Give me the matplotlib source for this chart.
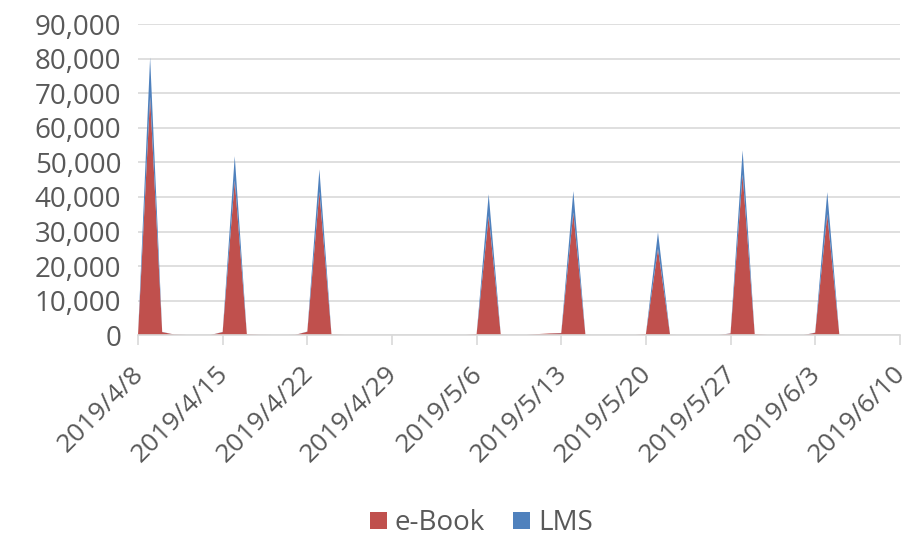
import numpy as np
import pandas as pd
import matplotlib
matplotlib.use('Agg')
import matplotlib.pyplot as plt
import matplotlib.transforms as mtransforms
from matplotlib.patches import Patch
from matplotlib.ticker import FuncFormatter, MultipleLocator

plt.rcParams['font.family'] = ['Open Sans', 'DejaVu Sans']

# daily counts, 2019/4/8 .. 2019/6/9
start_date = '2019-04-08'
ebook = [0, 69000, 900, 200, 50, 0, 50,
         900, 44800, 300, 100, 50, 0, 100,
         1000, 41500, 200, 50, 0, 0, 0,
         0, 0, 0, 0, 0, 0, 0,
         300, 34500, 100, 0, 0, 300, 500,
         600, 35500, 100, 0, 0, 0, 0,
         300, 25000, 100, 0, 0, 0, 0,
         500, 46500, 300, 50, 0, 0, 0,
         700, 35000, 100, 0, 0, 0, 0]
lms = [0, 11400, 50, 0, 0, 0, 0,
       50, 7000, 0, 0, 0, 0, 0,
       50, 6500, 0, 0, 0, 0, 0,
       0, 0, 0, 0, 0, 0, 0,
       0, 6300, 0, 0, 0, 0, 0,
       50, 6200, 0, 0, 0, 0, 0,
       0, 4800, 0, 0, 0, 0, 0,
       50, 7000, 0, 0, 0, 0, 0,
       50, 6400, 0, 0, 0, 0, 0]
series_names = ['e-Book', 'LMS']
colors = ['#C0504D', '#4F81BD']

dates = pd.date_range(start_date, periods=len(ebook), freq='D')
tick_dates = pd.date_range('2019-04-08', '2019-06-10', freq='7D')

text_c = '#595959'
grid_c = '#D9D9D9'

fig = plt.figure(figsize=(9.08, 5.38), dpi=100)
ax = fig.add_axes([0.152, 0.377, 0.839, 0.578])

ax.stackplot(dates, ebook, lms, colors=colors, linewidth=0, zorder=3)

ax.set_ylim(0, 90000)
ax.yaxis.set_major_locator(MultipleLocator(10000))
ax.yaxis.set_major_formatter(FuncFormatter(lambda v, p: f'{int(v):,}'))
ax.set_xlim(tick_dates[0], tick_dates[-1])
ax.set_xticks(tick_dates)
ax.set_xticklabels([f'{d.year}/{d.month}/{d.day}' for d in tick_dates])

ax.grid(axis='y', color=grid_c, linewidth=1.2, zorder=0)
ax.set_axisbelow(True)
for s in ['top', 'right', 'left']:
    ax.spines[s].set_visible(False)
ax.spines['bottom'].set_color(grid_c)
ax.spines['bottom'].set_linewidth(1.2)
ax.spines['bottom'].set_zorder(4)

ax.tick_params(axis='y', length=0, pad=12, labelsize=20, labelcolor=text_c)
ax.tick_params(axis='x', length=7, width=1.2, color=grid_c, pad=9,
               labelsize=19, labelcolor=text_c)
# nudge rotated date labels down-left so the last one stays inside
shift = mtransforms.ScaledTranslation(-7 / 100, -4 / 100, fig.dpi_scale_trans)
for lbl in ax.get_xticklabels():
    lbl.set_rotation(45)
    lbl.set_ha('right')
    lbl.set_va('top')
    lbl.set_rotation_mode('anchor')
    lbl.set_transform(lbl.get_transform() + shift)

handles = [Patch(facecolor=c, edgecolor='none') for c in colors]
fig.legend(handles, series_names, loc='lower center', bbox_to_anchor=(0.53, -0.045),
           ncol=2, frameon=False, fontsize=20, labelcolor=text_c,
           handlelength=0.6, handleheight=0.6, handletextpad=0.3, columnspacing=1.0)

fig.savefig('out.png', dpi=100)
